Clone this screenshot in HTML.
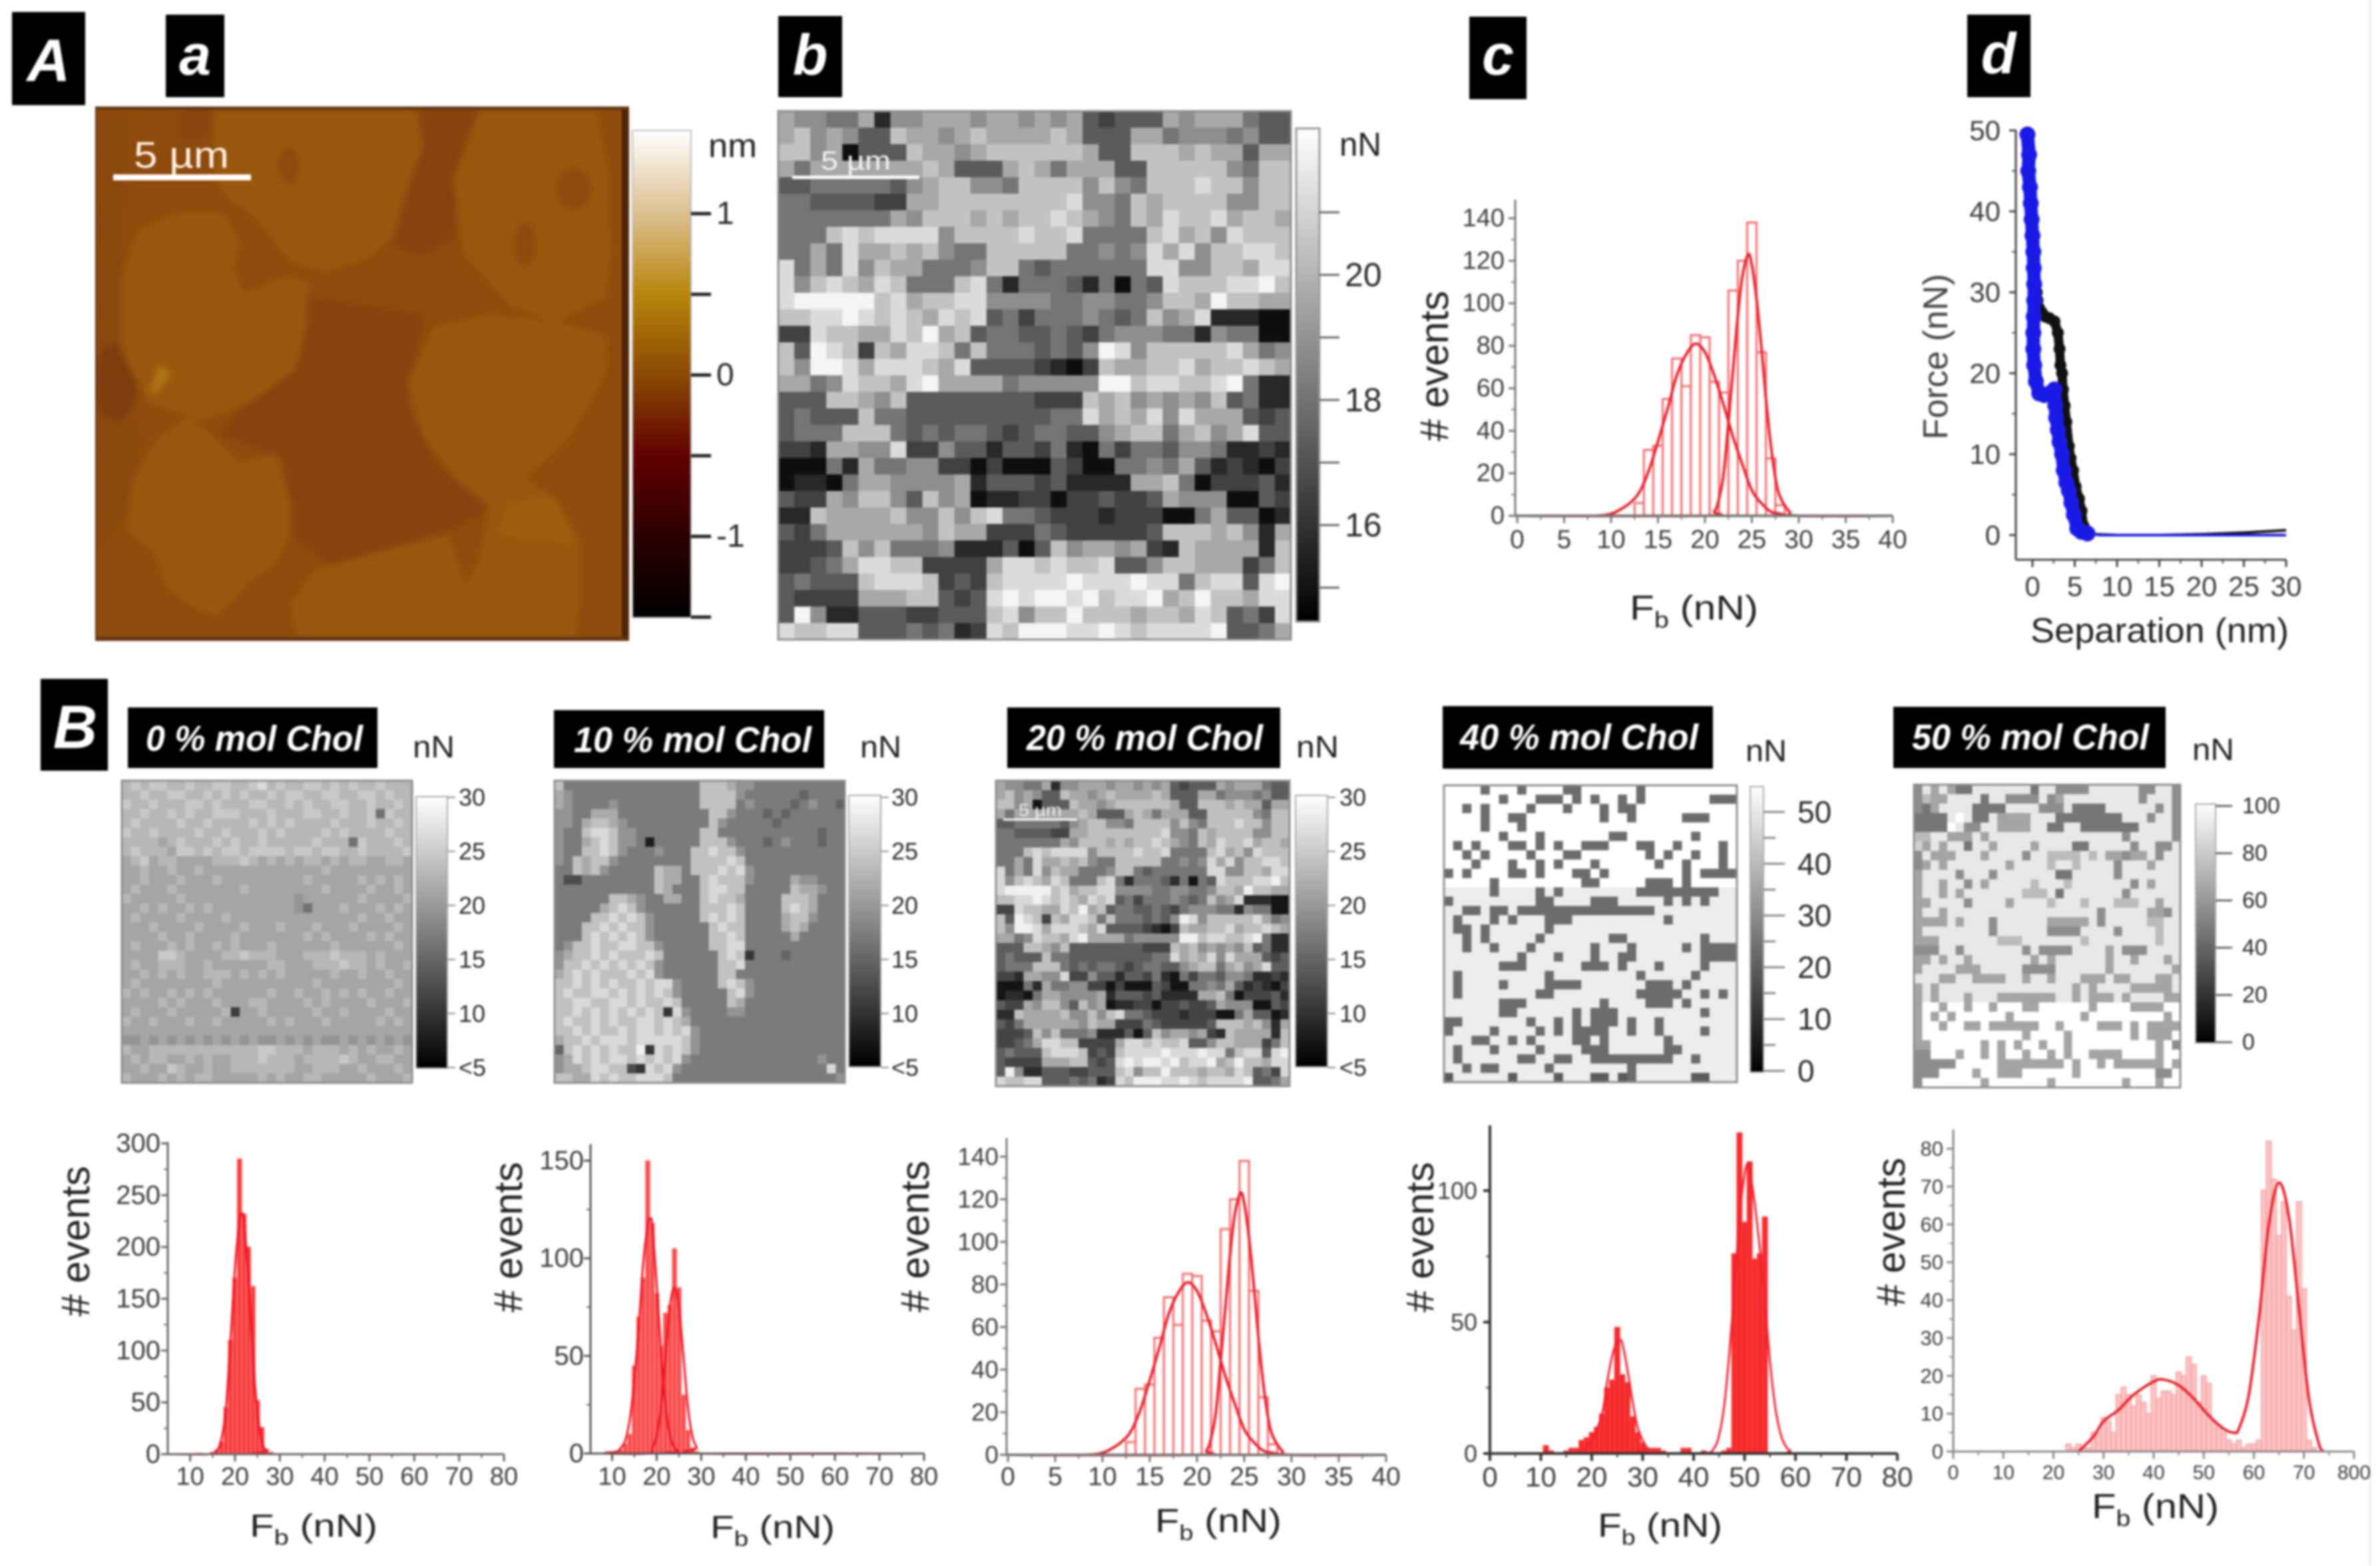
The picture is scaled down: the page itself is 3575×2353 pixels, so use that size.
<!DOCTYPE html>
<html lang="en">
<head>
<meta charset="utf-8">
<title>AFM force spectroscopy panels</title>
<style>
html,body{margin:0;padding:0;background:#fff;}
svg{display:block;filter:blur(1.6px);}
text{font-family:"Liberation Sans",sans-serif;}
.tag{font-weight:bold;font-style:italic;fill:#fff;}
.unit{fill:#222;}
.title{fill:#222;}
</style>
</head>
<body>
<svg id="figure" xmlns="http://www.w3.org/2000/svg" width="3575" height="2353" viewBox="0 0 3575 2353">
<defs>
<linearGradient id="cbHeight" x1="0" y1="0" x2="0" y2="1">
<stop offset="0" stop-color="#ffffff"/><stop offset="0.17" stop-color="#dcc090"/><stop offset="0.335" stop-color="#b8860b"/><stop offset="0.5" stop-color="#8b4a04"/><stop offset="0.67" stop-color="#600000"/><stop offset="0.835" stop-color="#2a0000"/><stop offset="1" stop-color="#000000"/>
</linearGradient>
<linearGradient id="cbGray" x1="0" y1="0" x2="0" y2="1"><stop offset="0" stop-color="#ffffff"/><stop offset="1" stop-color="#000000"/></linearGradient>
<filter id="afmSoft" x="-5%" y="-5%" width="110%" height="110%"><feGaussianBlur stdDeviation="7"/></filter>
<pattern id="scan" width="10" height="7" patternUnits="userSpaceOnUse"><rect width="10" height="3" fill="#000" opacity="0.025"/></pattern>
<clipPath id="afmClip"><rect x="144" y="161" width="800" height="801"/></clipPath>
</defs>
<rect width="3575" height="2353" fill="#fff"/>
<line x1="3560" y1="0" x2="3560" y2="2353" stroke="#ececec" stroke-width="3"/>

<g><rect x="18" y="18" width="110" height="140"/><text class="tag" x="73" y="122" font-size="90" text-anchor="middle">A</text></g>
<g><rect x="249" y="22" width="88" height="124"/><text class="tag" x="293" y="112" font-size="86" text-anchor="middle">a</text></g>
<g><rect x="1169" y="24" width="96" height="122"/><text class="tag" x="1217" y="112" font-size="86" text-anchor="middle">b</text></g>
<g><rect x="2207" y="25" width="86" height="124"/><text class="tag" x="2250" y="112" font-size="86" text-anchor="middle">c</text></g>
<g><rect x="2955" y="22" width="95" height="124"/><text class="tag" x="3002" y="110" font-size="86" text-anchor="middle">d</text></g>
<g><rect x="61" y="1020" width="101" height="138"/><text class="tag" x="113" y="1124" font-size="92" text-anchor="middle">B</text></g>

<g clip-path="url(#afmClip)">
<rect x="144" y="161" width="800" height="801" fill="#8f4c0d"/>
<g transform="scale(0.7653,0.6378)" filter="url(#afmSoft)">
<polygon points="188,252 250,252 240,600 235,800 250,950 280,1040 250,1200 190,1300" fill="#8c480e"/>
<ellipse cx="225" cy="900" rx="45" ry="90" fill="#7f3d0b"/>
<polygon points="600,700 830,740 800,950 860,1100 960,1200 880,1250 650,1330 570,1260 560,1080 430,1020 600,800" fill="#88430c"/>
<polygon points="815,252 940,252 900,420 890,560 830,600 770,580 800,470" fill="#88430c"/>
<polygon points="360,252 420,252 400,330 350,330" fill="#8a450c"/>
<g fill="#9b5810">
<polygon points="420,260 820,260 830,350 790,470 770,560 720,610 640,640 570,620 500,510 450,470 420,420"/>
<polygon points="940,260 1170,260 1195,400 1200,600 1190,700 1090,760 1000,720 950,650 910,600 890,420"/>
<polygon points="270,540 350,500 440,500 470,570 460,640 480,690 560,650 605,660 600,780 580,870 490,950 400,990 290,950 240,830 240,650"/>
<polygon points="850,770 960,740 1100,760 1190,790 1190,880 1120,1030 1030,1130 1090,1170 1140,1280 1140,1400 1130,1500 580,1500 570,1420 620,1340 780,1290 880,1260 915,1380 940,1320 960,1190 900,1130 830,1030 800,900"/>
<polygon points="370,980 430,1040 470,1090 540,1070 570,1180 570,1260 540,1330 490,1370 430,1450 390,1440 330,1390 300,1300 250,1250 260,1130 310,1030"/>
</g>
<g fill="#8f4c0d">
<ellipse cx="567" cy="390" rx="22" ry="45"/><ellipse cx="1125" cy="445" rx="35" ry="50"/><ellipse cx="1030" cy="575" rx="22" ry="55"/>
</g>
<polygon points="295,925 312,860 335,880 310,925" fill="#b07612"/>
<polygon points="1000,1190 1090,1170 1130,1280 980,1260" fill="#a05e10"/>
</g>
<rect x="934" y="161" width="10" height="801" fill="#4f2407"/>
<rect x="144" y="161" width="800" height="4" fill="#6c340a"/>
<rect x="144" y="957" width="800" height="5" fill="#6c340a"/>
<rect x="144" y="161" width="800" height="801" fill="url(#scan)"/>
</g>
<rect x="144" y="161" width="800" height="801" fill="none" stroke="#5a3a1c" stroke-width="2"/>
<rect x="170" y="262" width="207" height="9" fill="#fff"/>
<text x="201" y="252" font-size="56" textLength="143" lengthAdjust="spacingAndGlyphs" fill="#fff2e4">5 µm</text>

<rect x="950" y="196" width="88" height="732" fill="url(#cbHeight)" stroke="#bbb" stroke-width="2"/>
<text class="unit" x="1064" y="236" font-size="50" textLength="73" lengthAdjust="spacingAndGlyphs">nm</text>

<rect x="1947" y="193" width="35" height="741" fill="url(#cbGray)" stroke="#999" stroke-width="3"/>
<text class="unit" x="2012" y="234" font-size="50" textLength="63" lengthAdjust="spacingAndGlyphs">nN</text>

<g><rect x="192" y="1063" width="375" height="91"/><text class="tag" x="219" y="1128" font-size="54" textLength="326" lengthAdjust="spacingAndGlyphs">0 % mol Chol</text></g>
<g><rect x="832" y="1067" width="406" height="87"/><text class="tag" x="862" y="1130" font-size="54" textLength="357" lengthAdjust="spacingAndGlyphs">10 % mol Chol</text></g>
<g><rect x="1513" y="1063" width="410" height="91"/><text class="tag" x="1542" y="1127" font-size="54" textLength="355" lengthAdjust="spacingAndGlyphs">20 % mol Chol</text></g>
<g><rect x="2167" y="1061" width="406" height="94"/><text class="tag" x="2193" y="1126" font-size="54" textLength="358" lengthAdjust="spacingAndGlyphs">40 % mol Chol</text></g>
<g><rect x="2844" y="1062" width="409" height="92"/><text class="tag" x="2872" y="1126" font-size="54" textLength="356" lengthAdjust="spacingAndGlyphs">50 % mol Chol</text></g>

<text class="unit" x="620" y="1138" font-size="46" textLength="63" lengthAdjust="spacingAndGlyphs">nN</text>
<text class="unit" x="1292" y="1138" font-size="46" textLength="62" lengthAdjust="spacingAndGlyphs">nN</text>
<text class="unit" x="1947" y="1138" font-size="46" textLength="64" lengthAdjust="spacingAndGlyphs">nN</text>
<text class="unit" x="2622" y="1144" font-size="46" textLength="62" lengthAdjust="spacingAndGlyphs">nN</text>
<text class="unit" x="3293" y="1142" font-size="46" textLength="63" lengthAdjust="spacingAndGlyphs">nN</text>

<rect x="625" y="1197" width="47" height="408" fill="url(#cbGray)" stroke="#aaa" stroke-width="2"/>
<rect x="1275" y="1195" width="48" height="408" fill="url(#cbGray)" stroke="#aaa" stroke-width="2"/>
<rect x="1946" y="1195" width="48" height="408" fill="url(#cbGray)" stroke="#aaa" stroke-width="2"/>
<rect x="2629" y="1182" width="20" height="429" fill="url(#cbGray)" stroke="#aaa" stroke-width="2"/>
<rect x="3298" y="1208" width="30" height="359" fill="url(#cbGray)" stroke="#aaa" stroke-width="2"/>

<g id="marks"></g>

<g><rect x="1190" y="264" width="191" height="5" fill="#fff"/><text x="1233" y="255" font-size="40" textLength="105" lengthAdjust="spacingAndGlyphs" fill="#f4f4f4">5 µm</text></g>
<g><rect x="1507" y="1230" width="111" height="3" fill="#fff"/><text x="1530" y="1226" font-size="26" textLength="65" lengthAdjust="spacingAndGlyphs" fill="#eee">5 µm</text></g>

<text class="title" transform="translate(2175,550) rotate(-90)" font-size="60" text-anchor="middle" textLength="226" lengthAdjust="spacingAndGlyphs"># events</text>
<text class="title" x="2448" y="931" font-size="52" textLength="193" lengthAdjust="spacingAndGlyphs">F<tspan dy="12" font-size="34">b</tspan><tspan dy="-12"> (nN)</tspan></text>
<text transform="translate(2925,536) rotate(-90)" fill="#444" font-size="52" text-anchor="middle" textLength="249" lengthAdjust="spacingAndGlyphs">Force (nN)</text>
<text class="title" x="3050" y="965" font-size="52" textLength="388" lengthAdjust="spacingAndGlyphs" fill="#333">Separation (nm)</text>

<text class="title" transform="translate(134,1865) rotate(-90)" font-size="60" text-anchor="middle" textLength="226" lengthAdjust="spacingAndGlyphs"># events</text>
<text class="title" x="375" y="2309" font-size="48" textLength="192" lengthAdjust="spacingAndGlyphs">F<tspan dy="12" font-size="32">b</tspan><tspan dy="-12"> (nN)</tspan></text>
<text class="title" transform="translate(784,1859) rotate(-90)" font-size="60" text-anchor="middle" textLength="226" lengthAdjust="spacingAndGlyphs"># events</text>
<text class="title" x="1067" y="2311" font-size="48" textLength="187" lengthAdjust="spacingAndGlyphs">F<tspan dy="12" font-size="32">b</tspan><tspan dy="-12"> (nN)</tspan></text>
<text class="title" transform="translate(1395,1858) rotate(-90)" font-size="60" text-anchor="middle" textLength="228" lengthAdjust="spacingAndGlyphs"># events</text>
<text class="title" x="1735" y="2302" font-size="50" textLength="190" lengthAdjust="spacingAndGlyphs">F<tspan dy="12" font-size="32">b</tspan><tspan dy="-12"> (nN)</tspan></text>
<text class="title" transform="translate(2153,1859) rotate(-90)" font-size="58" text-anchor="middle" textLength="226" lengthAdjust="spacingAndGlyphs"># events</text>
<text class="title" x="2400" y="2309" font-size="50" textLength="187" lengthAdjust="spacingAndGlyphs">F<tspan dy="12" font-size="32">b</tspan><tspan dy="-12"> (nN)</tspan></text>
<text class="title" transform="translate(2861,1851) rotate(-90)" font-size="60" text-anchor="middle" textLength="223" lengthAdjust="spacingAndGlyphs"># events</text>
<text class="title" x="3142" y="2281" font-size="52" textLength="191" lengthAdjust="spacingAndGlyphs">F<tspan dy="12" font-size="34">b</tspan><tspan dy="-12"> (nN)</tspan></text>
</svg>

<script>
/* ---------- heatmap levels (0 = darkest, 9 = lightest) ---------- */
const heatB = [
"65544615566656656563233365666433","67565337665676666763336645554533","77560333766567777776337776766366","64666666676333676466633777775477",
"33444443567755477775754777877577","44333322667777777785547677775577","44444446577767677876547687786776","44478788885777787784444786758777",
"44648667675447777744545868577887","84648576644457743444444885577688","85787687444784144431404387778897","89999978677885555445544577697766",
"77889878768783424445434756811100","22877668796734433432455544154400","73987276887474443435985777778645","75998688876833332102766778677876",
"66458776896666455555997887789411","33377657333333332227675656573411","34333744333333333448676858666323","34447774343443234433567746756833",
"22166558225331332410424435541121","00041644552202000320044546312102","01104665555613332311116674022231","32265775375601122022322365550032",
"11766667557578443222122200463301","32466666657662224322222377767516","22237574445111303756656217666617","22346887722226887877833577666247",
"34333788872327888898889884788389","32222666773238989989788967977688","39511333223337857797776776873428","87788333434128799988987888893346"];
const heat0 = [
"78788778778877897877887878778777","77877887787878778788778877887877","87787778878777887787877887787787","77877878778887778777887787783877",
"78777787787777878787777877787787","87787777877877787877778787777877","77776787778787787777787773877787","78777688787887888878878877877778",
"67867766667778767676776767766776","66766766766666666666667666666666","66766676667666666666766666767676","67666766666667666666667666676676",
"76666676666666666665666666766667","66767667676666666665366676667676","67666676666766666666666666766766","66676666766667666766676667666676",
"66667667666676666666767666676766","67666767667676667666666766666676","66668876666778777666777877767666","67667776676666667766677787767667",
"66767676677767676766666766766766","67666666667666666666676666666676","76766767676666667667667676766766","66667676667666776666767666676667",
"67666766666706676666676676666766","76676667667666667676667666667676","66666666666666666666666666666666","55656565656565655656565565656565",
"76677777777777788777677767676676","67677667676677787776777787667766","66766876676677777776677766766676","76667676776666676766776666676667"];
const heat10 = [
"74444444444444447776554444444444","65444444444444447777544444434444","65444454444444447777454444345443","55446664444444444775444343444444",
"55467765444444444754444434444444","54478875544444447744444444444344","54467875540444447775444345444344","54477875444544477877544444444444",
"54767754444444477778744444444444","44767544444766477787854444444444","42244444444766447877754444655444","44444444444764447887744444766544",
"44444477654466447877644447776444","44444678754444447778744447876444","44447787875444447878744446775444","44477878775444444787744446764444",
"44478787875444444778744444644444","45778778877544444778844444444444","56778787778744444478714443444444","57787878787544444477844444444444",
"67878777878544444477444444444444","77878787787885444478754444444444","78778878787875444447854444444444","77887788787787444447644444444444",
"77878787878718544445544444444444","78778787788787644444444444444444","77878778788787854444444444444444","67787888788888754444444444444444",
"37878787791878754444444444444444","56878788787878544444444444444544","56678877218785444444444444444484","77668787788874444444444444444445"];
const heat40 = [
"99991999199991199999919999999999","99999919991119191991919999999111","99191999919991999191199999999999","99991991199999999199199999111999",
"99991999199999999999999999999999","99999919991999999911999999919999","91919991191919911199911991999919","99191999919991199999991919919919",
"99919991991919991999999199199919","19199991191999119199999999191111","99999199999999911999991119199999","88888188881818888888811111111188",
"18888888881188881118888818181888","88118118111111111111111888888888","81888181888111888888888818888888","81181888888188888888888888888888",
"88181888881888888811888888881888","88188188818888881888188888181111","88888888188818881881188888881111","88888811188888811181888188881888",
"81888888888188888888818888818888","81888818888111188888881118188888","81888888881188888888811111881818","88888811188888888188881118188888",
"88888811888888181118888888881888","11888888818818181118188188888888","18888188881818111188188188881888","88811881818888118188888818888888",
"81888188881888811188888811888888","81888888118811881111111118818888","88181188888188888888188888888888","08888880888808880080188888800888"];
const heat50 = [
"48585338888888388444488888844884","46558888388444484588888888848884","43588883333888844483333888888484","33338983385555888333333338884884",
"33339844885555883388333333388884","66885558588888888888888884888884","75858838858888588883388888488448","48555888588884886666868554558488",
"45858888888588886886888848885888","58888488848888888338888848888888","58858848588888688868888888485888","58858588888886668388888884888888",
"55888848888588886888688866688588","58858888888888888888884888885548","55558588848888885555584888886688","58888888848888884444888848888688",
"55588888886668888888688888888688","44488488888884844448888584448888","55858858888888585888888588588858","58888555888884444888888588888885",
"88855885555885885888555855888558","58588888888888888885858888555558","58588858885555555885855585888855","59959959959995599999959999555599",
"59595999999599999999599999999959","59959955955555599599995559595555","59999999999995999959999999595559","55999999595959959959999999999594",
"44999599595995995959955559999599","44444999995555555595995955555595","44499995995559999995999999999449","49999999599999995999999995999599"];

/* ---------- colorbar ticks ---------- */
const heightTicks = [1,0.5,0,-0.5,-1,-1.5];
const heightLabels = ["1","","0","","-1",""];
const forceBTicks = [21,20,19,18,17,16,15];
const forceBLabels = ["","20","","18","","16",""];
const smallBarTicks = [30,25,20,15,10,5];
const smallBarLabels = ["30","25","20","15","10","<5"];
const bar40Ticks = [50,45,40,35,30,25,20,15,10,5,0];
const bar40Labels = ["50","","40","","30","","20","","10","","0"];
const bar50Ticks = [100,80,60,40,20,0];
const bar50Labels = ["100","80","60","40","20","0"];

/* ---------- histograms: bin centres (nN) and counts ---------- */
const histCBins = [13,14,15,16,17,18,19,20,21,22,23,24,25,26,27,28];
const histCCounts = [6,31,33,55,74,61,85,84,63,58,106,120,138,77,27,5];
const histCFit1X = [0,8,10,11,12,13,14,15,16,17,18,19,20,21,22,23,24,25,26,27,28,30,40];
const histCFit1Y = [0,0,1,3,6,11,21,35,50,66,76,81,77,66,52,37,24,12,6,2,1,0,0];
const histCFit2X = [0,20,21,21.5,22,22.5,23,23.5,24,24.6,25,25.5,26,26.5,27,27.5,28,29,30,40];
const histCFit2Y = [0,0,2,8,20,44,69,94,113,123,118,102,80,55,34,18,9,2,0,0];
const histCXTicks = [0,5,10,15,20,25,30,35,40];
const histCYTicks = [0,20,40,60,80,100,120,140];

const hist0Bins = [12,15,16,17,18,19,20,21,22,23,24,25,26,27,28];
const hist0Counts = [1,2,4,12,45,110,170,285,232,200,162,52,26,5,2];
const hist0FitX = [5,14,16,17,18,19,20,21,21.5,22,23,24,25,26,27,28,80];
const hist0FitY = [0,0,4,15,45,110,180,225,232,225,170,95,40,12,3,0,0];
const hist0XTicks = [10,20,30,40,50,60,70,80];
const hist0YTicks = [0,50,100,150,200,250,300];

const hist10Bins = [9,10,11,12,13,14,15,16,17,18,19,20,21,22,23,24,25,26,27,28,29];
const hist10Counts = [1,1,1,2,5,10,45,70,90,150,118,82,55,72,76,105,85,30,12,3,1];
const hist10Fit1X = [8,11,12,13,14,15,16,17,18,18.5,19,20,21,22,23,24,25,26,80];
const hist10Fit1Y = [0,1,3,7,18,38,66,98,117,120,117,87,52,24,9,3,1,0,0];
const hist10Fit2X = [8,18,19,20,21,22,23,24,25,26,27,28,29,30,80];
const hist10Fit2Y = [0,0,3,9,24,50,76,85,75,50,24,9,3,0,0];
const hist10XTicks = [10,20,30,40,50,60,70,80];
const hist10YTicks = [0,50,100,150];

const hist40Bins = [11,12,15,16,17,18,19,20,21,22,23,24,25,26,27,28,29,30,31,32,33,34,38,39,42,46,47,48,49,50,51,52,53,54];
const hist40Counts = [3,1,1,2,2,5,6,8,10,15,25,28,48,30,27,14,8,4,2,2,2,1,2,2,1,1,2,76,122,88,111,74,76,90];
const hist40Fit1X = [0,15,18,20,22,23,24,25,25.5,26,27,28,29,30,31,33,80];
const hist40Fit1Y = [0,0,1,5,15,27,37,43,43,42,32,20,10,5,2,0,0];
const hist40Fit2X = [33,42,44,45,46,47,48,49,50,50.5,51,52,53,54,55,56,57,58,59,60,80];
const hist40Fit2Y = [0,0,2,7,18,38,62,90,106,110,108,95,78,58,35,18,8,3,1,0,0];
const hist40XTicks = [0,10,20,30,40,50,60,70,80];
const hist40YTicks = [0,50,100];

const hist50Bins = [23,24,25,26,27,28,29,30,31,32,33,34,35,36,37,38,39,40,41,42,43,44,45,46,47,48,49,50,51,52,53,54,55,56,57,58,59,60,61,62,63,64,65,66,67,68,69,70,71,72];
const hist50Counts = [2,1,2,1,1,5,5,9,8,5,15,17,15,12,15,13,10,20,14,16,16,15,21,20,25,23,13,20,18,8,7,5,3,2,3,1,2,2,3,69,82,72,57,66,41,32,66,43,3,1];
const hist50FitX = [25,28,30,33,36,40,42,45,48,51,54,56,57,59,61,63,65,67,69,71,73,74];
const hist50FitY = [0,4,8,11,15,18.5,19,17.5,14,9.5,6,5,6,15,35,60,71,62,38,14,2,0];
const hist50XTicks = [0,10,20,30,40,50,60,70,80];
const hist50XLabels = ["0","10","20","30","40","50","60","70","800"];
const hist50YTicks = [0,10,20,30,40,50,60,70,80];

/* ---------- force curves (separation nm, force nN) ---------- */
const approachSep = [-0.6,-0.4,-0.5,-0.2,-0.3,0,0.1,0.2,0.3,0.4,0.5,0.6,0.8,1.1,1.5,2,2.6,3,3.2,3.3,3.5,3.6,3.8,4,4.3,4.5,4.8,5.1,5.5,5.8,6,6.5,7.5,10,15,20,25,30];
const approachForce = [49,47,45,43,41,39,37,35,33,31,30,29,28,27.5,27,26.8,26.4,25,23,21,20,18,16,14,11,9.5,8,6,4.5,3,1.2,0.5,0.1,0,0,0.1,0.3,0.6];
const retractSep = [-0.6,-0.4,-0.5,-0.3,-0.2,-0.1,0,0.1,0.15,0.2,0.2,0.15,0.1,0.1,0.2,0.4,0.8,1.4,2,2.6,2.7,2.8,3,3.2,3.5,3.7,4,4.3,4.6,4.9,5.3,5.8,6.5,8,12,20,30];
const retractForce = [49.5,47,45,43,41,39,37,35,33,31,29,27,25,23,21,19,17.5,17.3,17.5,18,16,14.5,13,11.5,10,8,6.5,5.5,4,2.5,0.8,0.4,0.2,0,0,0,0];
const forceXTicks = [0,5,10,15,20,25,30];
const forceYTicks = [0,10,20,30,40,50];

/* ---------- helpers ---------- */
const SVGNS = document.getElementById('figure').namespaceURI;
const marks = document.getElementById('marks');
function make(tag, attrs, parent) {
  const n = document.createElementNS(SVGNS, tag);
  for (const k in attrs) n.setAttribute(k, attrs[k]);
  parent.appendChild(n);
  return n;
}
function linear(d0, d1, r0, r1) { return v => r0 + (v - d0) / (d1 - d0) * (r1 - r0); }
function smoothPath(pts) {
  let d = 'M' + pts[0][0] + ' ' + pts[0][1];
  for (let i = 0; i < pts.length - 1; i++) {
    const p0 = pts[Math.max(i - 1, 0)], p1 = pts[i], p2 = pts[i + 1], p3 = pts[Math.min(i + 2, pts.length - 1)];
    d += ' C' + (p1[0] + (p2[0] - p0[0]) / 6) + ' ' + (p1[1] + (p2[1] - p0[1]) / 6) + ' ' +
         (p2[0] - (p3[0] - p1[0]) / 6) + ' ' + (p2[1] - (p3[1] - p1[1]) / 6) + ' ' + p2[0] + ' ' + p2[1];
  }
  return d;
}

function drawHeatmap(name, rows, box, lo, hi) {
  const g = make('g', {}, marks);
  
  
  const nRows = rows.length;
  const nCols = 32;
  const col = linear(0, nCols, box.x, box.x + box.w);
  const row = linear(0, nRows, box.y, box.y + box.h);
  const tone = linear(0, 9, lo, hi);
  rows.forEach((str, r) => {
    const padded = str.padEnd(nCols, str[str.length - 1]);
    for (let c = 0; c < nCols; c++) {
      const v = Math.round(tone(+padded[c]));
      const cell = make('rect', {x: col(c), y: row(r), width: col(1) - col(0) + 0.6, height: row(1) - row(0) + 0.6, fill: 'rgb(' + v + ',' + v + ',' + v + ')'}, g);
      
      
    }
  });
  const border = make('rect', {x: box.x, y: box.y, width: box.w, height: box.h, fill: 'none', stroke: '#8c8c8c', 'stroke-width': 3}, g);
  
  
}

function drawBarTicks(name, ticks, labels, scale, o) {
  const g = make('g', {}, marks);
  
  
  ticks.forEach((v, i) => {
    const y = scale(v);
    const major = labels[i] !== '';
    const t = make('line', {x1: o.x, x2: o.x + (major ? o.len : o.minorLen), y1: y, y2: y, stroke: o.color, 'stroke-width': o.sw}, g);
    
    
    if (major) {
      const l = make('text', {x: o.labelX, y: y, 'font-size': o.font, fill: '#2a2a2a', 'dominant-baseline': 'central'}, g);
      l.textContent = labels[i];
      
      
    }
  });
}

function drawAxes(name, c) {
  const g = make('g', {}, marks);
  
  
  const axisColor = c.axisColor || '#555';
  const axisWidth = c.axisWidth || 3;
  const base = c.baseY === undefined ? c.y(0) : c.baseY;
  const xLine = make('line', {x1: c.axisX, x2: c.x(c.xMax), y1: base, y2: base, stroke: axisColor, 'stroke-width': axisWidth + (c.baseExtra || 0)}, g);
  
  
  const yLine = make('line', {x1: c.axisX, x2: c.axisX, y1: base, y2: c.top, stroke: axisColor, 'stroke-width': axisWidth}, g);
  
  
  c.xTicks.forEach((v, i) => {
    const x = c.x(v);
    const t = make('line', {x1: x, x2: x, y1: base, y2: base + 11, stroke: axisColor, 'stroke-width': axisWidth}, g);
    
    
    if (i < c.xTicks.length - 1) {
      const mx = (x + c.x(c.xTicks[i + 1])) / 2;
      const m = make('line', {x1: mx, x2: mx, y1: base, y2: base + 6, stroke: axisColor, 'stroke-width': 2}, g);
      
      
    }
    const l = make('text', {x: x, y: c.xLabelY, 'font-size': c.xFont, fill: '#3c3c3c', 'text-anchor': 'middle', 'dominant-baseline': 'central'}, g);
    l.textContent = c.xLabels ? c.xLabels[i] : v;
    
    
  });
  c.yTicks.forEach((v, i) => {
    const y = c.y(v);
    const t = make('line', {x1: c.axisX - 10, x2: c.axisX, y1: y, y2: y, stroke: axisColor, 'stroke-width': axisWidth}, g);
    
    
    if (i < c.yTicks.length - 1) {
      const my = (y + c.y(c.yTicks[i + 1])) / 2;
      const m = make('line', {x1: c.axisX - 6, x2: c.axisX, y1: my, y2: my, stroke: axisColor, 'stroke-width': 2}, g);
      
      
    }
    const l = make('text', {x: c.yLabelX, y: y, 'font-size': c.yFont, fill: '#3c3c3c', 'text-anchor': 'end', 'dominant-baseline': 'central'}, g);
    l.textContent = v;
    
    
  });
}

function drawHist(name, bins, counts, fits, c) {
  const g = make('g', {}, marks);
  
  
  const base = c.y(0);
  bins.forEach((b, i) => {
    const x0 = c.x(b - 0.5), x1 = c.x(b + 0.5), top = c.y(counts[i]);
    const bar = make('rect', {x: x0, y: top, width: x1 - x0, height: base - top, fill: c.barFill, stroke: c.barStroke, 'stroke-width': c.barStrokeWidth}, g);
    
    
  });
  fits.forEach(f => {
    const pts = f[0].map((v, i) => [c.x(v), c.y(f[1][i])]);
    const p = make('path', {d: smoothPath(pts), fill: 'none', stroke: c.fitColor, 'stroke-width': c.fitWidth}, g);
    
    
  });
}

/* ---------- heatmaps ---------- */
drawHeatmap('force-map-b', heatB, {x: 1169, y: 167, w: 770, h: 794}, 14, 245);
drawHeatmap('force-map-0-percent', heat0, {x: 183, y: 1173, w: 436, h: 454}, 60, 218);
drawHeatmap('force-map-10-percent', heat10, {x: 833, y: 1173, w: 436, h: 454}, 30, 240);
drawHeatmap('force-map-20-percent', heatB, {x: 1496, y: 1173, w: 441, h: 459}, 20, 240);
drawHeatmap('force-map-40-percent', heat40, {x: 2169, y: 1180, w: 440, h: 446}, 90, 255);
drawHeatmap('force-map-50-percent', heat50, {x: 2875, y: 1179, w: 400, h: 455}, 50, 255);

/* ---------- colorbar ticks ---------- */
drawBarTicks('height-colorbar-ticks', heightTicks, heightLabels, linear(1, -1, 321, 806), {x: 1038, len: 30, minorLen: 30, color: '#222', sw: 5, labelX: 1076, font: 48});
drawBarTicks('force-colorbar-b-ticks', forceBTicks, forceBLabels, linear(20, 16, 413, 789), {x: 1982, len: 30, minorLen: 30, color: '#666', sw: 3, labelX: 2020, font: 50});
const smallBarY = linear(30, 5, 1198, 1604);
drawBarTicks('colorbar-0-percent-ticks', smallBarTicks, smallBarLabels, smallBarY, {x: 672, len: 12, minorLen: 12, color: '#888', sw: 2, labelX: 689, font: 36});
drawBarTicks('colorbar-10-percent-ticks', smallBarTicks, smallBarLabels, smallBarY, {x: 1323, len: 12, minorLen: 12, color: '#888', sw: 2, labelX: 1339, font: 36});
drawBarTicks('colorbar-20-percent-ticks', smallBarTicks, smallBarLabels, smallBarY, {x: 1994, len: 12, minorLen: 12, color: '#888', sw: 2, labelX: 2012, font: 36});
drawBarTicks('colorbar-40-percent-ticks', bar40Ticks, bar40Labels, linear(50, 0, 1220, 1609), {x: 2649, len: 32, minorLen: 18, color: '#888', sw: 3, labelX: 2700, font: 46});
drawBarTicks('colorbar-50-percent-ticks', bar50Ticks, bar50Labels, linear(100, 0, 1211, 1566), {x: 3328, len: 25, minorLen: 25, color: '#666', sw: 3, labelX: 3368, font: 34});

/* ---------- histograms ---------- */
const outlineBars = {barFill: '#fff', barStroke: '#f76a6a', barStrokeWidth: 3, fitColor: '#e8202c', fitWidth: 4};
const cCfg = Object.assign({x: linear(0, 40, 2279, 2843), y: linear(0, 140, 775, 328), xMax: 40, axisX: 2276, top: 300, xTicks: histCXTicks, yTicks: histCYTicks, xLabelY: 811, yLabelX: 2260, xFont: 39, yFont: 38, axisColor: '#777', baseExtra: 1}, outlineBars);
drawHist('histogram-c', histCBins, histCCounts, [[histCFit1X, histCFit1Y], [histCFit2X, histCFit2Y]], cCfg);
drawAxes('axes-c', cCfg);

const c20 = Object.assign({x: linear(0, 40, 1514, 2082), y: linear(0, 140, 2186, 1738), xMax: 40, axisX: 1512, top: 1710, xTicks: histCXTicks, yTicks: histCYTicks, xLabelY: 2219, yLabelX: 1500, xFont: 39, yFont: 37, axisColor: '#777', baseExtra: 1}, outlineBars);
drawHist('histogram-20-percent', histCBins, histCCounts, [[histCFit1X, histCFit1Y], [histCFit2X, histCFit2Y]], c20);
drawAxes('axes-20-percent', c20);

const c0 = {x: linear(5, 80, 252, 757), y: linear(0, 300, 2185, 1718), xMax: 80, axisX: 252, top: 1716, xTicks: hist0XTicks, yTicks: hist0YTicks, xLabelY: 2219, yLabelX: 241, xFont: 38, yFont: 40, barFill: '#f63a3a', barStroke: '#ff7d7d', barStrokeWidth: 1.5, fitColor: '#f01020', fitWidth: 3, axisColor: '#666'};
drawHist('histogram-0-percent', hist0Bins, hist0Counts, [[hist0FitX, hist0FitY]], c0);
drawAxes('axes-0-percent', c0);

const c10 = {x: linear(5, 80, 886, 1388), y: linear(0, 150, 2184, 1744), xMax: 80, axisX: 887, top: 1719, xTicks: hist10XTicks, yTicks: hist10YTicks, xLabelY: 2219, yLabelX: 877, xFont: 38, yFont: 40, barFill: '#f64a4a', barStroke: '#ff8a8a', barStrokeWidth: 1.5, fitColor: '#f01020', fitWidth: 3, axisColor: '#555'};
drawHist('histogram-10-percent', hist10Bins, hist10Counts, [[hist10Fit1X, hist10Fit1Y], [hist10Fit2X, hist10Fit2Y]], c10);
drawAxes('axes-10-percent', c10);

const c40 = {x: linear(0, 80, 2238, 2850), y: linear(0, 100, 2184, 1789), xMax: 80, axisX: 2238, top: 1691, xTicks: hist40XTicks, yTicks: hist40YTicks, xLabelY: 2219, yLabelX: 2219, xFont: 42, yFont: 36, barFill: '#f52a2a', barStroke: '#f84444', barStrokeWidth: 1.5, fitColor: '#f02030', fitWidth: 3, axisColor: '#333', axisWidth: 4};
drawHist('histogram-40-percent', hist40Bins, hist40Counts, [[hist40Fit1X, hist40Fit1Y], [hist40Fit2X, hist40Fit2Y]], c40);
drawAxes('axes-40-percent', c40);

const c50 = {x: linear(0, 80, 2934, 3536), y: linear(0, 80, 2181, 1726), xMax: 80, axisX: 2934, top: 1697, xTicks: hist50XTicks, xLabels: hist50XLabels, yTicks: hist50YTicks, xLabelY: 2213, yLabelX: 2919, xFont: 30, yFont: 31, barFill: '#fcc4c4', barStroke: '#f59a9a', barStrokeWidth: 1.5, fitColor: '#e8202c', fitWidth: 4, axisColor: '#888'};
drawHist('histogram-50-percent', hist50Bins, hist50Counts, [[hist50FitX, hist50FitY]], c50);
drawAxes('axes-50-percent', c50);

/* ---------- force curves ---------- */
const dCfg = {x: linear(0, 30, 3053, 3434), y: linear(0, 50, 804, 196), xMax: 30, axisX: 3028, baseY: 841, top: 195, xTicks: forceXTicks, yTicks: forceYTicks, xLabelY: 881, yLabelX: 3005, xFont: 42, yFont: 42, axisColor: '#444'};
drawAxes('axes-d', dCfg);
function drawForceCurve(name, seps, forces, color, thickWidth, dot) {
  const g = make('g', {}, marks);
  
  
  const pts = seps.map((v, i) => dCfg.x(v) + ',' + dCfg.y(forces[i]));
  const line = make('polyline', {points: pts.join(' '), fill: 'none', stroke: color, 'stroke-width': 4, 'stroke-linejoin': 'round'}, g);
  
  
  const steep = seps.map((v, i) => v <= 7 ? dCfg.x(v) + ',' + dCfg.y(forces[i]) : null).filter(Boolean);
  const band = make('polyline', {points: steep.join(' '), fill: 'none', stroke: color, 'stroke-width': thickWidth, 'stroke-linejoin': 'round'}, g);
  
  
  seps.forEach((v, i) => {
    if (v > 7) return;
    const m = make('circle', {cx: dCfg.x(v), cy: dCfg.y(forces[i]), r: dot, fill: color}, g);
    
    
  });
}
drawForceCurve('approach-curve-black', approachSep, approachForce, '#111', 14, 9);
drawForceCurve('retract-curve-blue', retractSep, retractForce, '#1a1ae6', 20, 12);
</script>
</body>
</html>
